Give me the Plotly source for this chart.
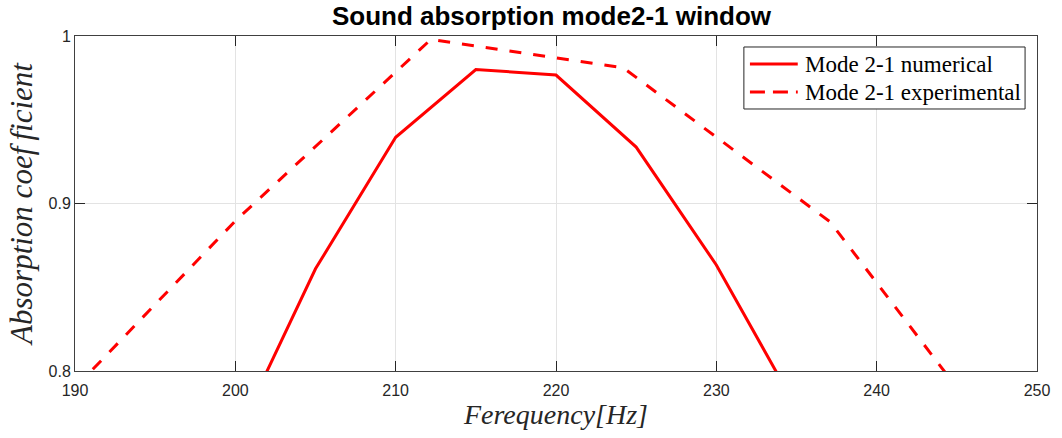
import plotly.graph_objects as go

# Numerical (mode 2-1)
freq_num = [200, 205, 210, 215, 220, 225, 230, 235]
abs_num = [0.760, 0.861, 0.9395, 0.980, 0.9767, 0.9337, 0.8633, 0.778]

# Experimental (mode 2-1)
freq_exp = [188.0, 200.0, 212.2, 224.2, 237.1, 249.0]
abs_exp = [0.770, 0.8896, 0.998, 0.981, 0.889, 0.740]

x_ticks = [190, 200, 210, 220, 230, 240, 250]
y_ticks = [0.8, 0.9, 1.0]
y_tick_text = ["0.8", "0.9", "1"]

series_names = ["Mode 2-1 numerical", "Mode 2-1 experimental"]
RED = "#ff0000"
EXP_DASH = "12px,12px"

fig = go.Figure()
fig.add_trace(go.Scatter(x=freq_num, y=abs_num, mode="lines",
                         name=series_names[0],
                         line=dict(color=RED, width=3)))
fig.add_trace(go.Scatter(x=freq_exp, y=abs_exp, mode="lines",
                         name=series_names[1],
                         line=dict(color=RED, width=3, dash=EXP_DASH)))

axis_common = dict(
    showline=True, linecolor="#404040", linewidth=1, mirror="ticks",
    ticks="inside", ticklen=10, tickcolor="#262626", tickwidth=1,
    showgrid=True, gridcolor="#e3e3e3", gridwidth=1,
    zeroline=False,
    tickfont=dict(family="Liberation Sans, Arial", size=16, color="#262626"),
)

# custom legend box (paper coordinates)
lg_x0, lg_x1, lg_y0, lg_y1 = 0.6953, 0.9876, 0.7821, 0.9672
lg_rows = [0.9164, 0.8328]
lg_line_x = (0.7016, 0.7513)
lg_text_x = 0.7565

shapes = [dict(type="rect", xref="paper", yref="paper",
               x0=lg_x0, x1=lg_x1, y0=lg_y0, y1=lg_y1,
               line=dict(color="#262626", width=1), fillcolor="white", layer="above")]
annotations = []
for i, (name, yy) in enumerate(zip(series_names, lg_rows)):
    shapes.append(dict(type="line", xref="paper", yref="paper",
                       x0=lg_line_x[0], x1=lg_line_x[1], y0=yy, y1=yy, layer="above",
                       line=dict(color=RED, width=3, dash="solid" if i == 0 else "15px,8px")))
    annotations.append(dict(xref="paper", yref="paper", x=lg_text_x, y=yy,
                            xanchor="left", yanchor="middle", showarrow=False,
                            text=name,
                            font=dict(family="Liberation Serif, Times New Roman", size=23, color="black")))

fig.update_layout(
    width=1062, height=438,
    margin=dict(l=75, r=22, t=36, b=67),
    paper_bgcolor="white", plot_bgcolor="white",
    title=dict(text="<b>Sound absorption mode2-1 window</b>",
               font=dict(family="Liberation Sans, Arial", size=26, color="black"),
               x=0.5193, xanchor="center", y=0.963, yanchor="middle"),
    xaxis=dict(range=[190, 250], tickvals=x_ticks, ticktext=[str(v) for v in x_ticks],
               ticklabelstandoff=5,
               title=dict(text="<i>Ferequency[Hz]</i>", standoff=0,
                          font=dict(family="Liberation Serif, Times New Roman", size=28, color="#262626")),
               **axis_common),
    yaxis=dict(range=[0.8, 1.0], tickvals=y_ticks, ticktext=y_tick_text,
               title=dict(text="<i>Absorption coef\u2009ficient</i>", standoff=6,
                          font=dict(family="Liberation Serif, Times New Roman", size=31, color="#262626")),
               **axis_common),
    shapes=shapes,
    annotations=annotations,
    showlegend=False,
)

fig.write_html("out.html")
